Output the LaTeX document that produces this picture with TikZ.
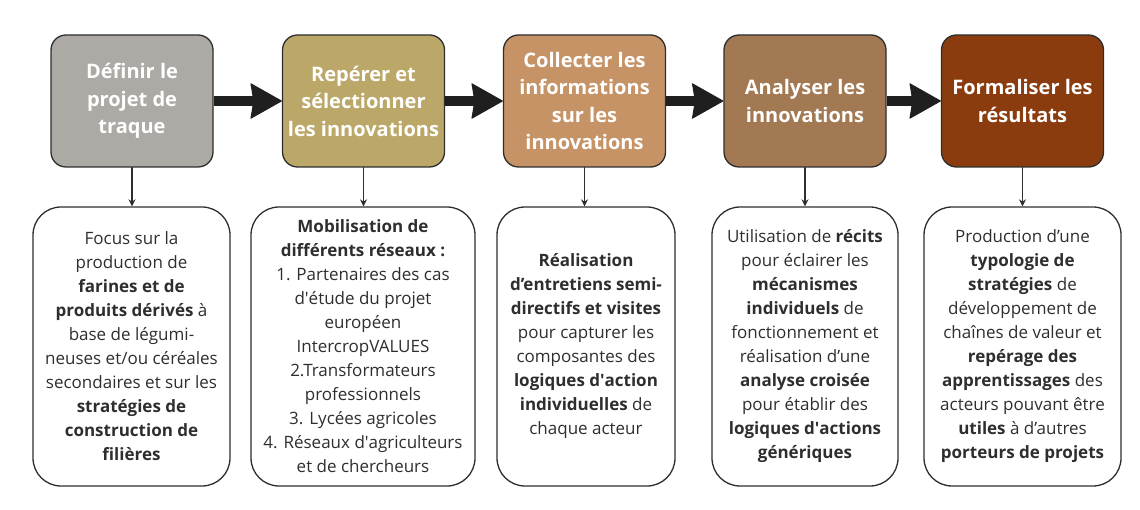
\documentclass[tikz,border=0pt]{standalone}
\usepackage{fontspec}
\setmainfont{Open Sans}
\usetikzlibrary{arrows.meta}
\definecolor{colDefinir}{HTML}{ADA9A4}
\definecolor{colReperer}{HTML}{BBA868}
\definecolor{colCollecter}{HTML}{C69367}
\definecolor{colAnalyser}{HTML}{A27952}
\definecolor{colFormaliser}{HTML}{8A3C0E}
\definecolor{trait}{HTML}{2E2E2E}
\begin{document}
\begin{tikzpicture}[line cap=round,line join=round,x=1pt,y=-1pt,
  stepbox/.style={draw=trait,line width=1.3pt,rounded corners=15pt,minimum width=162pt,minimum height=132pt,inner sep=0pt,align=center,text=white,font=\fontsize{20}{27.5}\selectfont\bfseries},
  notebox/.style={draw=trait,line width=1.3pt,rounded corners=28pt,minimum height=279pt,inner sep=0pt,align=center,text=black!82,font=\fontsize{17}{24}\selectfont},
  bigarrow/.style={draw=black!88,line width=10pt,line cap=butt,-{Stealth[length=32pt,width=36pt,inset=3pt,round,line width=1pt]}},
  downarrow/.style={draw=trait,line width=1.3pt,-{Stealth[length=7pt,width=7pt]}}]
\useasboundingbox (0,0) rectangle (1140,510);
\node[stepbox,fill=colDefinir] (definir) at (132,101) {Définir le\\projet de\\traque};
\node[stepbox,fill=colReperer] (reperer) at (363.5,101) {Repérer et\\sélectionner\\les innovations};
\node[stepbox,fill=colCollecter] (collecter) at (584.5,101) {Collecter les\\informations\\sur les\\innovations};
\node[stepbox,fill=colAnalyser] (analyser) at (805,101) {Analyser les\\innovations};
\node[stepbox,fill=colFormaliser] (formaliser) at (1022.5,101) {Formaliser les\\résultats};
\node[notebox,minimum width=197pt] (focus) at (131.5,346.5) {Focus sur la\\production de\\\textbf{farines et de}\\\textbf{produits dérivés} à\\base de légumi-\\neuses et/ou céréales\\secondaires et sur les\\\textbf{stratégies de}\\\textbf{construction de}\\\textbf{filières}};
\node[notebox,minimum width=224pt] (reseaux) at (363,346.5) {\textbf{Mobilisation de}\\\textbf{différents réseaux :}\\1. Partenaires des cas\\d\textquotesingle étude du projet\\européen\\IntercropVALUES\\2.Transformateurs\\professionnels\\3. Lycées agricoles\\4. Réseaux d\textquotesingle agriculteurs\\et de chercheurs};
\node[notebox,minimum width=178pt] (entretiens) at (586,346.5) {\textbf{Réalisation}\\\textbf{d’entretiens semi-}\\\textbf{directifs et visites}\\pour capturer les\\composantes des\\\textbf{logiques d\textquotesingle action}\\\textbf{individuelles} de\\chaque acteur};
\node[notebox,minimum width=186pt] (recits) at (805,346.5) {Utilisation de \textbf{récits}\\pour éclairer les\\\textbf{mécanismes}\\\textbf{individuels} de\\fonctionnement et\\réalisation d’une\\\textbf{analyse croisée}\\pour établir des\\\textbf{logiques d\textquotesingle actions}\\\textbf{génériques}};
\node[notebox,minimum width=197pt] (typologie) at (1022.5,346.5) {Production d’une\\\textbf{typologie de}\\\textbf{stratégies} de\\développement de\\chaînes de valeur et\\\textbf{repérage des}\\\textbf{apprentissages} des\\acteurs pouvant être\\\textbf{utiles} à d’autres\\\textbf{porteurs de projets}};
\draw[bigarrow] (definir) -- (reperer);
\draw[bigarrow] (reperer) -- (collecter);
\draw[bigarrow] (collecter) -- (analyser);
\draw[bigarrow] (analyser) -- (formaliser);
\draw[downarrow] (definir.south) -- (definir.south |- focus.north);
\draw[downarrow] (reperer.south) -- (reperer.south |- reseaux.north);
\draw[downarrow] (collecter.south) -- (collecter.south |- entretiens.north);
\draw[downarrow] (analyser.south) -- (analyser.south |- recits.north);
\draw[downarrow] (formaliser.south) -- (formaliser.south |- typologie.north);
\end{tikzpicture}
\end{document}
